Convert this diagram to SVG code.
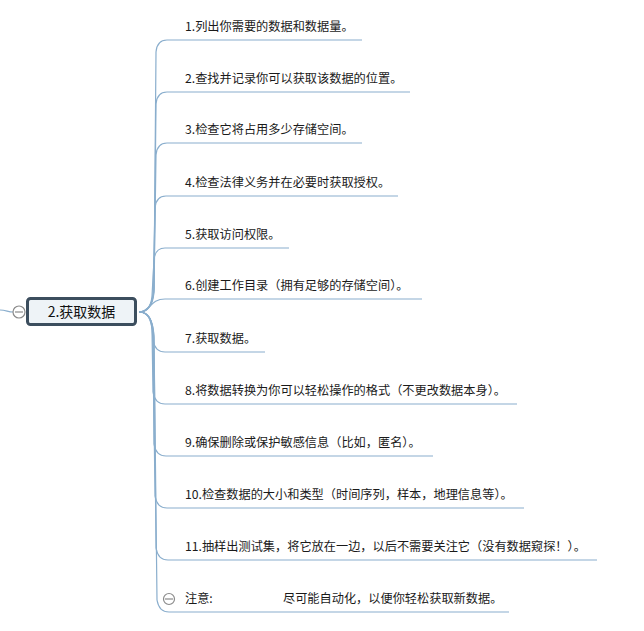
<svg xmlns="http://www.w3.org/2000/svg" width="644" height="631" viewBox="0 0 644 631">
<style>
.c{fill:none;stroke:#8aaecd;stroke-width:1.2}
.t{font-family:"Microsoft YaHei","Noto Sans CJK SC",sans-serif;font-size:12.2px;fill:#1a1a1a}
.m{font-family:"Microsoft YaHei","Noto Sans CJK SC",sans-serif;font-size:14px;fill:#111}
.col{fill:#fff;stroke:#8a8a8a;stroke-width:1.2}
</style>
<rect width="644" height="631" fill="#fff"/>
<g id="connectors">
<path class="c" d="M0,310 C6,310 8,312 13,312"/>
<path class="c" d="M139,312 C148,312 153,304 154,288 L156,52 Q157,40 167,40 L362,40"/>
<path class="c" d="M139,312 C148,312 153,304 154,290 L156,104 Q157,92 167,92 L410,92"/>
<path class="c" d="M139,312 C148,312 153,305 154,292 L156,155 Q157,143 167,143 L362,143"/>
<path class="c" d="M139,312 C148,312 152,306 153,294 L155,208 Q156,196 166,196 L398,196"/>
<path class="c" d="M139,312 C147,312 151,307 152,296 L154,260 Q155,248 165,248 L289,248"/>
<path class="c" d="M139,312 C150,312 150,299 165,299 L422,299"/>
<path class="c" d="M139,312 C147,312 151,318 152,328 L153,340 Q155,352 165,352 L265,352"/>
<path class="c" d="M139,312 C147,312 151,318 152,330 L153,392 Q155,404 165,404 L517,404"/>
<path class="c" d="M139,312 C148,312 152,318 153,332 L154,444 Q156,456 166,456 L433,456"/>
<path class="c" d="M139,312 C148,312 152,318 153,334 L155,496 Q157,508 167,508 L524,508"/>
<path class="c" d="M139,312 C148,312 153,319 154,336 L156,548 Q158,560 168,560 L597,560"/>
<path class="c" d="M139,312 C148,312 153,319 154,338 L157,600 Q159,612 169,612 L509,612"/>
</g>
<g id="center">
<rect x="27.5" y="298.5" width="108" height="26" rx="3" fill="#eef3f7" stroke="#3c4e5e" stroke-width="3"/>
<text class="m" x="81.5" y="317" text-anchor="middle">2.获取数据</text>
</g>
<g id="center-collapse">
<circle class="col" cx="19" cy="312" r="6"/>
<line x1="15" y1="312" x2="23" y2="312" stroke="#8a8a8a" stroke-width="1.2"/>
</g>
<g id="n1"><text class="t" x="185" y="31">1.列出你需要的数据和数据量。</text></g>
<g id="n2"><text class="t" x="185" y="83">2.查找并记录你可以获取该数据的位置。</text></g>
<g id="n3"><text class="t" x="185" y="134">3.检查它将占用多少存储空间。</text></g>
<g id="n4"><text class="t" x="185" y="187">4.检查法律义务并在必要时获取授权。</text></g>
<g id="n5"><text class="t" x="185" y="239">5.获取访问权限。</text></g>
<g id="n6"><text class="t" x="185" y="290">6.创建工作目录（拥有足够的存储空间）。</text></g>
<g id="n7"><text class="t" x="185" y="343">7.获取数据。</text></g>
<g id="n8"><text class="t" x="185" y="395">8.将数据转换为你可以轻松操作的格式（不更改数据本身）。</text></g>
<g id="n9"><text class="t" x="185" y="447">9.确保删除或保护敏感信息（比如，匿名）。</text></g>
<g id="n10"><text class="t" x="185" y="499">10.检查数据的大小和类型（时间序列，样本，地理信息等）。</text></g>
<g id="n11"><text class="t" x="185" y="551">11.抽样出测试集，将它放在一边，以后不需要关注它（没有数据窥探！）。</text></g>
<g id="n12">
<circle class="col" cx="169" cy="599" r="5.5"/>
<line x1="165" y1="599" x2="173" y2="599" stroke="#8a8a8a" stroke-width="1.2"/>
<text class="t" x="185" y="603">注意:</text>
<text class="t" x="283" y="603">尽可能自动化，以便你轻松获取新数据。</text>
</g>
</svg>
